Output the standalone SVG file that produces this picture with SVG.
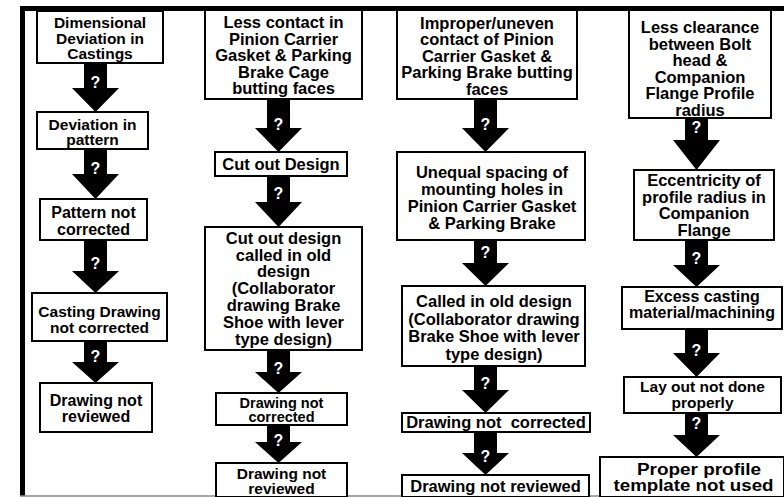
<svg xmlns="http://www.w3.org/2000/svg" width="784" height="497" viewBox="0 0 784 497">
<style>
.box{fill:#fff;stroke:#000;stroke-width:2}
.t{font-family:"Liberation Sans",Arial,sans-serif;font-weight:bold;font-size:16.5px;fill:#000;text-anchor:middle}
.m{font-size:16px}
.n{font-size:15.5px}
.s{font-size:14.5px}
.arr{fill:#000}
.q{font-family:"Liberation Sans",Arial,sans-serif;font-weight:bold;font-size:16px;fill:#fff;text-anchor:middle}
</style>
<rect width="784" height="497" fill="#fff"/>
<g id="frame">
<line x1="20" y1="8.5" x2="784" y2="8.5" stroke="#000" stroke-width="5"/>
<line x1="22.5" y1="6" x2="22.5" y2="496" stroke="#000" stroke-width="5"/>
<line x1="20" y1="496" x2="784" y2="496" stroke="#888" stroke-width="1.5"/>
</g>
<g id="connectors">
<polygon class="arr" points="84,63 107,63 107,88 119,88 95.5,112 72,88 84,88"/>
<text class="q" x="95.5" y="88">?</text>
<polygon class="arr" points="84,149 107,149 107,174 119,174 95.5,199 72,174 84,174"/>
<text class="q" x="95.5" y="174">?</text>
<polygon class="arr" points="84,240 107,240 107,271 119,271 95.5,293 72,271 84,271"/>
<text class="q" x="95.5" y="269">?</text>
<polygon class="arr" points="84,341 107,341 107,362 119,362 95.5,383 72,362 84,362"/>
<text class="q" x="95.5" y="362">?</text>

<polygon class="arr" points="267,99 290,99 290,128 302,128 278.5,152 255,128 267,128"/>
<text class="q" x="278.5" y="130">?</text>
<polygon class="arr" points="267,176 290,176 290,202 302,202 278.5,227 255,202 267,202"/>
<text class="q" x="278.5" y="199">?</text>
<polygon class="arr" points="267,350 290,350 290,372 302,372 278.5,393 255,372 267,372"/>
<text class="q" x="278.5" y="374">?</text>
<polygon class="arr" points="267,425 290,425 290,442 302,442 278.5,463 255,442 267,442"/>
<text class="q" x="278.5" y="446">?</text>

<polygon class="arr" points="474,99 497,99 497,128 509,128 485.5,152 462,128 474,128"/>
<text class="q" x="485.5" y="130">?</text>
<polygon class="arr" points="474,240 497,240 497,263 509,263 485.5,286 462,263 474,263"/>
<text class="q" x="485.5" y="258">?</text>
<polygon class="arr" points="474,366 497,366 497,390 509,390 485.5,413 462,390 474,390"/>
<text class="q" x="485.5" y="389">?</text>
<polygon class="arr" points="474,432 497,432 497,453 509,453 485.5,475 462,453 474,453"/>
<text class="q" x="485.5" y="462">?</text>

<polygon class="arr" points="685,118 708,118 708,140 720,140 696.5,170 673,140 685,140"/>
<text class="q" x="696.5" y="133">?</text>
<polygon class="arr" points="685,240 708,240 708,265 720,265 696.5,287 673,265 685,265"/>
<text class="q" x="696.5" y="264">?</text>
<polygon class="arr" points="685,329 708,329 708,353 720,353 696.5,377 673,353 685,353"/>
<text class="q" x="696.5" y="356">?</text>
<polygon class="arr" points="685,413 708,413 708,435 720,435 696.5,457 673,435 685,435"/>
<text class="q" x="696.5" y="429">?</text>
</g>

<g id="c1n1"><rect class="box" x="37" y="11" width="126" height="52"/>
<text class="t n" x="100" y="28">Dimensional</text><text class="t n" x="100" y="43.5">Deviation in</text><text class="t n" x="100" y="59">Castings</text></g>
<g id="c1n2"><rect class="box" x="37" y="112" width="111" height="37"/>
<text class="t n" x="92.5" y="129.5">Deviation in</text><text class="t n" x="92.5" y="145">pattern</text></g>
<g id="c1n3"><rect class="box" x="40" y="199" width="107" height="41"/>
<text class="t m" x="93.5" y="218">Pattern not</text><text class="t m" x="93.5" y="234.5">corrected</text></g>
<g id="c1n4"><rect class="box" x="32" y="293" width="135" height="48"/>
<text class="t n" x="99.5" y="317">Casting Drawing</text><text class="t n" x="99.5" y="332.5">not corrected</text></g>
<g id="c1n5"><rect class="box" x="40" y="383" width="112" height="49"/>
<text class="t m" x="96" y="406">Drawing not</text><text class="t m" x="96" y="422">reviewed</text></g>

<g id="c2n1"><rect class="box" x="205" y="10" width="157" height="89"/>
<text class="t" x="283.5" y="28">Less contact in</text><text class="t" x="283.5" y="44.5">Pinion Carrier</text><text class="t" x="283.5" y="61">Gasket &amp; Parking</text><text class="t" x="283.5" y="77.5">Brake Cage</text><text class="t" x="283.5" y="94">butting faces</text></g>
<g id="c2n2"><rect class="box" x="215" y="152" width="132" height="24"/>
<text class="t" x="281" y="170">Cut out Design</text></g>
<g id="c2n3"><rect class="box" x="205" y="227" width="157" height="123"/>
<text class="t" x="283.5" y="243.5">Cut out design</text><text class="t" x="283.5" y="260.5">called in old</text><text class="t" x="283.5" y="277">design</text><text class="t" x="283.5" y="294">(Collaborator</text><text class="t" x="283.5" y="311">drawing Brake</text><text class="t" x="283.5" y="328">Shoe with lever</text><text class="t" x="283.5" y="344.5">type design)</text></g>
<g id="c2n4"><rect class="box" x="216" y="393" width="131" height="32"/>
<text class="t s" x="281.5" y="407.5">Drawing not</text><text class="t s" x="281.5" y="422">corrected</text></g>
<g id="c2n5"><rect class="box" x="216" y="463" width="131" height="34"/>
<text class="t n" x="281.5" y="478.5">Drawing not</text><text class="t n" x="281.5" y="494">reviewed</text></g>

<g id="c3n1"><rect class="box" x="397" y="10" width="180" height="89"/>
<text class="t" x="487" y="28.5">Improper/uneven</text><text class="t" x="487" y="45">contact of Pinion</text><text class="t" x="487" y="61.5">Carrier Gasket &amp;</text><text class="t" x="487" y="78">Parking Brake butting</text><text class="t" x="487" y="94.5">faces</text></g>
<g id="c3n2"><rect class="box" x="397" y="152" width="188" height="88"/>
<text class="t" x="492" y="178">Unequal spacing of</text><text class="t" x="492" y="195">mounting holes in</text><text class="t" x="492" y="212">Pinion Carrier Gasket</text><text class="t" x="492" y="229">&amp; Parking Brake</text></g>
<g id="c3n3"><rect class="box" x="402" y="286" width="183" height="80"/>
<text class="t" x="494" y="307">Called in old design</text><text class="t" x="494" y="324.5">(Collaborator drawing</text><text class="t" x="494" y="342">Brake Shoe with lever</text><text class="t" x="494" y="359.5">type design)</text></g>
<g id="c3n4"><rect class="box" x="402" y="413" width="188" height="19"/>
<text class="t" x="496" y="428" xml:space="preserve">Drawing not  corrected</text></g>
<g id="c3n5"><rect class="box" x="402" y="475" width="187" height="22"/>
<text class="t" x="495.5" y="492">Drawing not reviewed</text></g>

<g id="c4n1"><rect class="box" x="629" y="10" width="142" height="108"/>
<text class="t" x="700" y="33">Less clearance</text><text class="t" x="700" y="49.5">between Bolt</text><text class="t" x="700" y="66">head &amp;</text><text class="t" x="700" y="82.5">Companion</text><text class="t" x="700" y="99">Flange Profile</text><text class="t" x="700" y="115.5">radius</text></g>
<g id="c4n2"><rect class="box" x="634" y="170" width="140" height="70"/>
<text class="t" x="704" y="186">Eccentricity of</text><text class="t" x="704" y="202.5">profile radius in</text><text class="t" x="704" y="219">Companion</text><text class="t" x="704" y="235.5">Flange</text></g>
<g id="c4n3"><rect class="box" x="622" y="287" width="160" height="42"/>
<text class="t m" x="702" y="301.5">Excess casting</text><text class="t m" x="702" y="318">material/machining</text></g>
<g id="c4n4"><rect class="box" x="624" y="377" width="157" height="36"/>
<text class="t n" x="702.5" y="392">Lay out not done</text><text class="t n" x="702.5" y="407.5">properly</text></g>
<g id="c4n5"><rect class="box" x="600" y="457" width="184" height="40"/>
<text class="t m" x="699" y="474.5" textLength="124" lengthAdjust="spacingAndGlyphs">Proper profile</text><text class="t m" x="693.5" y="490.5" textLength="160" lengthAdjust="spacingAndGlyphs">template not used</text></g>
</svg>
